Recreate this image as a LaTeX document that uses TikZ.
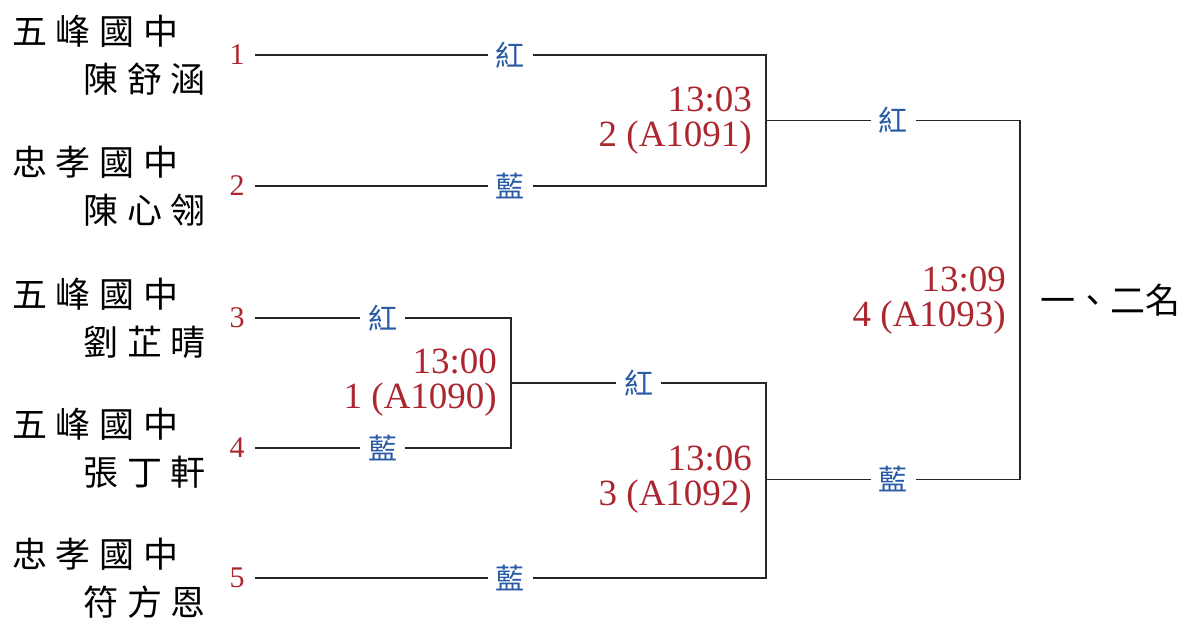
\documentclass[tikz,border=0pt]{standalone}
\usepackage{fontspec}
\setmainfont{Liberation Serif}
\newfontfamily\cjk{Noto Sans CJK TC}
\newfontfamily\cjkgap[LetterSpace=25]{Noto Sans CJK TC}
\definecolor{seedred}{RGB}{172,38,48}
\definecolor{cornerblue}{RGB}{40,90,165}

\begin{document}
\begin{tikzpicture}[x=1pt,y=-1pt,
		school/.style={anchor=west,inner sep=0pt,font=\fontsize{35}{38}\cjkgap},
		player/.style={anchor=east,inner sep=0pt,font=\fontsize{35}{38}\cjkgap},
		seed/.style={text=seedred,inner xsep=10pt,inner ysep=0pt,font=\fontsize{30}{32}\selectfont},
		corner/.style={text=cornerblue,fill=white,inner xsep=8pt,inner ysep=0pt,font=\fontsize{29}{30}\cjk},
		bout/.style={anchor=east,align=right,text=seedred,inner sep=0pt,font=\fontsize{37}{35}\selectfont},
		bracket/.style={line width=1.5pt,black!85}]
			\useasboundingbox (0,0) rectangle (1186,622);
			\foreach \y/\s/\n/\k in {55/五峰國中/陳舒涵/1,186/忠孝國中/陳心翎/2,318/五峰國中/劉芷晴/3,448/五峰國中/張丁軒/4,578/忠孝國中/符方恩/5} {
				\node[school] (s\k) at (12,\y-24) {\s};
				\node[player] (p\k) at (206,\y+24) {\n};
				\node[seed] (n\k) at (237,\y) {\k};
			}
			\coordinate (m1) at (511,383);
			\coordinate (m2) at (766,120.5);
			\coordinate (m3) at (766,479.5);
			\coordinate (m4) at (1020,300.5);
			\draw[bracket] (n1.east) -- node[corner]{紅} (n1 -| m2) -- (n2 -| m2) -- node[corner]{藍} (n2.east);
			\draw[bracket] (n3.east) -- node[corner]{紅} (n3 -| m1) -- (n4 -| m1) -- node[corner]{藍} (n4.east);
			\draw[bracket] (m1) -- node[corner]{紅} (m1 -| m3) -- (n5 -| m3) -- node[corner]{藍} (n5.east);
			\draw[bracket] (m2) -- node[corner]{紅} (m2 -| m4) -- (m3 -| m4) -- node[corner]{藍} (m3);
			\node[bout] (b1) at ([xshift=-14pt]m1) {13:00\\1 (A1090)};
			\node[bout] (b2) at ([xshift=-14pt]m2) {13:03\\2 (A1091)};
			\node[bout] (b3) at ([xshift=-14pt]m3) {13:06\\3 (A1092)};
			\node[bout] (b4) at ([xshift=-14pt]m4) {13:09\\4 (A1093)};
			\node[anchor=west,inner sep=0pt,font=\fontsize{35}{36}\cjk] (rank) at (1040,300) {一、二名};
		\end{tikzpicture}
\end{document}
